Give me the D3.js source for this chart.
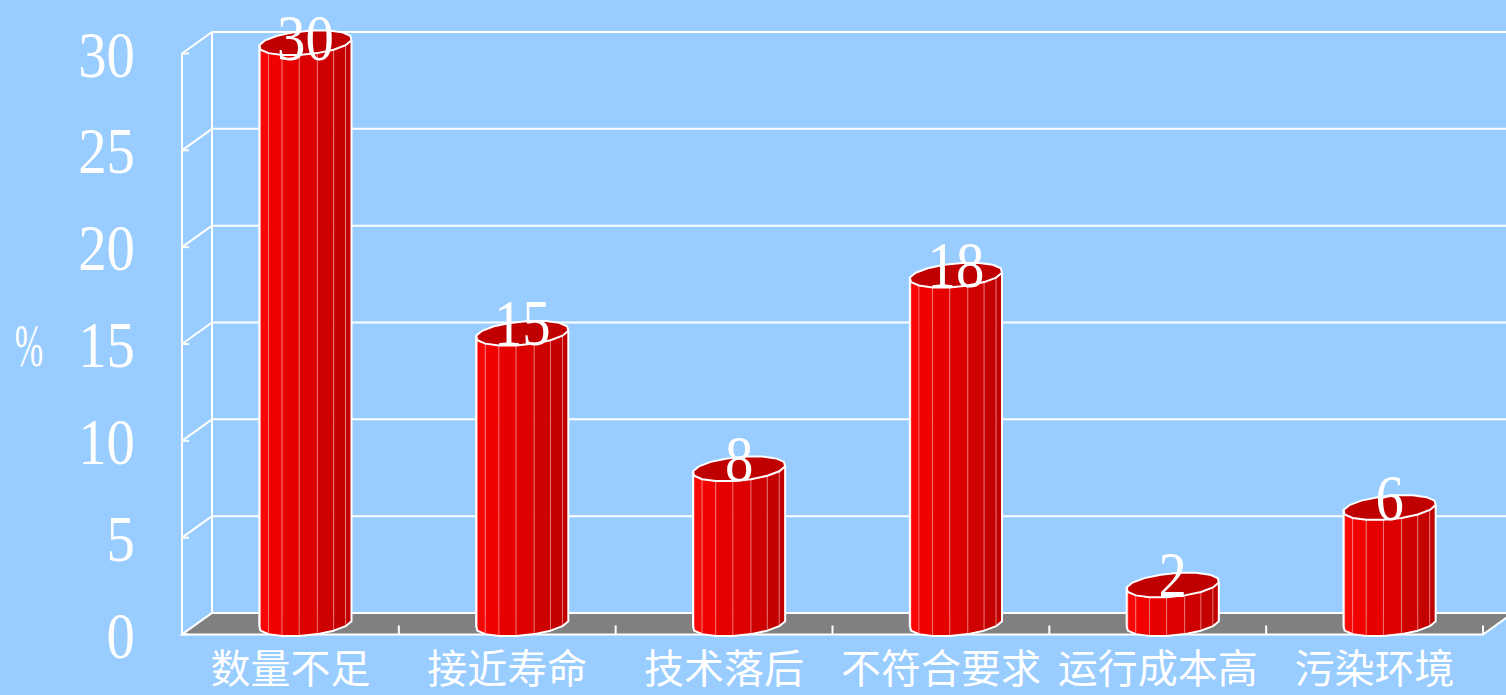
<!DOCTYPE html>
<html><head><meta charset="utf-8">
<script src="https://cdn.jsdelivr.net/npm/d3@7/dist/d3.min.js"></script>
<style>html,body{margin:0;padding:0;background:#99CCFF;overflow:hidden}svg{display:block}</style>
</head><body>
<svg id="c" width="1506" height="695"></svg>
<script>
const categories = ["数量不足","接近寿命","技术落后","不符合要求","运行成本高","污染环境"];
const values = [30,15,8,18,2,6];
const yTicks = [0,5,10,15,20,25,30];
const yLabel = "%";

const W = 1506, H = 695;
const DX = 30, DY = -21.5; // depth offset (front -> back)
const svg = d3.select("#c");
svg.append("rect").attr("width",W).attr("height",H).attr("fill","#99CCFF");

const x = d3.scaleBand().domain(categories).range([182, 1483]).padding(0);
const yB = d3.scaleLinear().domain([0,30]).range([613, 32]);
const yF = v => yB(v) - DY;
const x0 = 182, x1 = 1483;

const g = svg.append("g");
const white = "#FFFFFF";

g.selectAll("line.grid").data(yTicks).join("line")
  .attr("x1", x0+DX).attr("x2", x1+DX)
  .attr("y1", d=>yB(d)).attr("y2", d=>yB(d))
  .attr("stroke", white).attr("stroke-width", 2);
g.append("line").attr("x1",x0+DX).attr("x2",x0+DX).attr("y1",yB(30)).attr("y2",yB(0)).attr("stroke",white).attr("stroke-width",2);
g.selectAll("line.side").data(yTicks).join("line")
  .attr("x1", x0).attr("x2", x0+DX)
  .attr("y1", d=>yF(d)).attr("y2", d=>yB(d))
  .attr("stroke", white).attr("stroke-width", 2);

g.append("path")
  .attr("d", `M${x0},${yF(0)} L${x1},${yF(0)} L${x1+DX},${yB(0)} L${x0+DX},${yB(0)} Z`)
  .attr("fill","#808080").attr("stroke",white).attr("stroke-width",2);
g.selectAll("line.ct").data(d3.range(1, categories.length+1)).join("line")
  .attr("x1", i=>x0 + i*x.bandwidth()).attr("x2", i=>x0 + i*x.bandwidth())
  .attr("y1", yF(0)).attr("y2", yF(0)-9)
  .attr("stroke", white).attr("stroke-width", 2);
g.append("line").attr("x1",x0).attr("x2",x0).attr("y1",yF(30)).attr("y2",yF(0)).attr("stroke",white).attr("stroke-width",2);
g.selectAll("line.yt").data(yTicks).join("line")
  .attr("x1", x0).attr("x2", x0+7).attr("y1", d=>yF(d)).attr("y2", d=>yF(d))
  .attr("stroke", white).attr("stroke-width", 2);

const serif = "'Liberation Serif','DejaVu Serif',serif";
g.selectAll("text.yl").data(yTicks).join("text")
  .attr("transform", d=>`translate(135,${yF(d)+23}) scale(0.86,1)`)
  .attr("text-anchor","end").attr("fill",white)
  .attr("font-family",serif).attr("font-size",66)
  .text(d=>d);
g.append("text").attr("transform",`translate(29,${yF(15)+22}) scale(0.55,1)`)
  .attr("text-anchor","middle").attr("fill",white)
  .attr("font-family",serif).attr("font-size",62).text(yLabel);

g.selectAll("text.cl").data(categories).join("text")
  .attr("x", d=>x(d)+x.bandwidth()/2).attr("y", 683)
  .attr("text-anchor","middle").attr("fill",white)
  .attr("font-family","'Noto Sans CJK SC',sans-serif").attr("font-size",40)
  .text(d=>d);

const N = 16, R = 44, K = 0.5, KT = 0.58;
const shade = d3.scaleLinear().domain([-1, -0.3, 0.4, 1]).range(["#FF0A0A","#F00000","#DC0000","#C00000"]);
function pt(cx, cy, th){ return [cx + R*Math.cos(th) + K*DX*Math.sin(th), cy + KT*DY*Math.sin(th)]; }

const bars = g.selectAll("g.bar").data(categories.map((c,i)=>({c, v: values[i]}))).join("g");
bars.each(function(d){
  const sel = d3.select(this);
  const cx = x(d.c) + x.bandwidth()/2 + K*DX;
  const cyB = yB(0) - K*DY;
  const cyT = yB(d.v) - K*DY;
  const angs = d3.range(N).map(i => (i+0.5)*2*Math.PI/N);
  for (let i=0;i<N;i++){
    const a = angs[i], b = angs[(i+1)%N] + (i===N-1?2*Math.PI:0);
    const m = (a+b)/2;
    if (Math.sin(m) >= 0.02) continue;
    const pa = pt(cx,cyT,a), pb = pt(cx,cyT,b), qa = pt(cx,cyB,a), qb = pt(cx,cyB,b);
    sel.append("path")
      .attr("d", `M${pa} L${pb} L${qb} L${qa} Z`)
      .attr("fill", shade(Math.cos(m)))
      .attr("stroke", "rgba(255,170,170,0.5)").attr("stroke-width", 1);
  }
  const frontIdx = d3.range(N).filter(i => Math.sin(angs[i]) < 0.2);
  const topFront = frontIdx.map(i=>pt(cx,cyT,angs[i]));
  const botFront = frontIdx.map(i=>pt(cx,cyB,angs[i]));
  sel.append("path")
    .attr("d", "M" + angs.map(a=>pt(cx,cyT,a)).join("L") + "Z")
    .attr("fill", "#C00000").attr("stroke", white).attr("stroke-width", 2);
  const leftTop = topFront.reduce((p,q)=>q[0]<p[0]?q:p);
  const rightTop = topFront.reduce((p,q)=>q[0]>p[0]?q:p);
  const leftBot = botFront.reduce((p,q)=>q[0]<p[0]?q:p);
  const rightBot = botFront.reduce((p,q)=>q[0]>p[0]?q:p);
  const li = botFront.indexOf(leftBot), ri = botFront.indexOf(rightBot);
  let botPath = (li <= ri) ? botFront.slice(li, ri+1) : botFront.slice(li).concat(botFront.slice(0, ri+1));
  sel.append("path")
    .attr("d", `M${leftTop} L${botPath.join("L")} L${rightTop}`)
    .attr("fill","none").attr("stroke",white).attr("stroke-width",2).attr("stroke-linejoin","round");
  sel.append("text")
    .attr("transform", `translate(${cx},${Math.max(cyT+12, 60)}) scale(0.86,1)`)
    .attr("text-anchor","middle").attr("fill",white)
    .attr("font-family",serif).attr("font-size",66)
    .text(d.v);
});
</script>
</body></html>
